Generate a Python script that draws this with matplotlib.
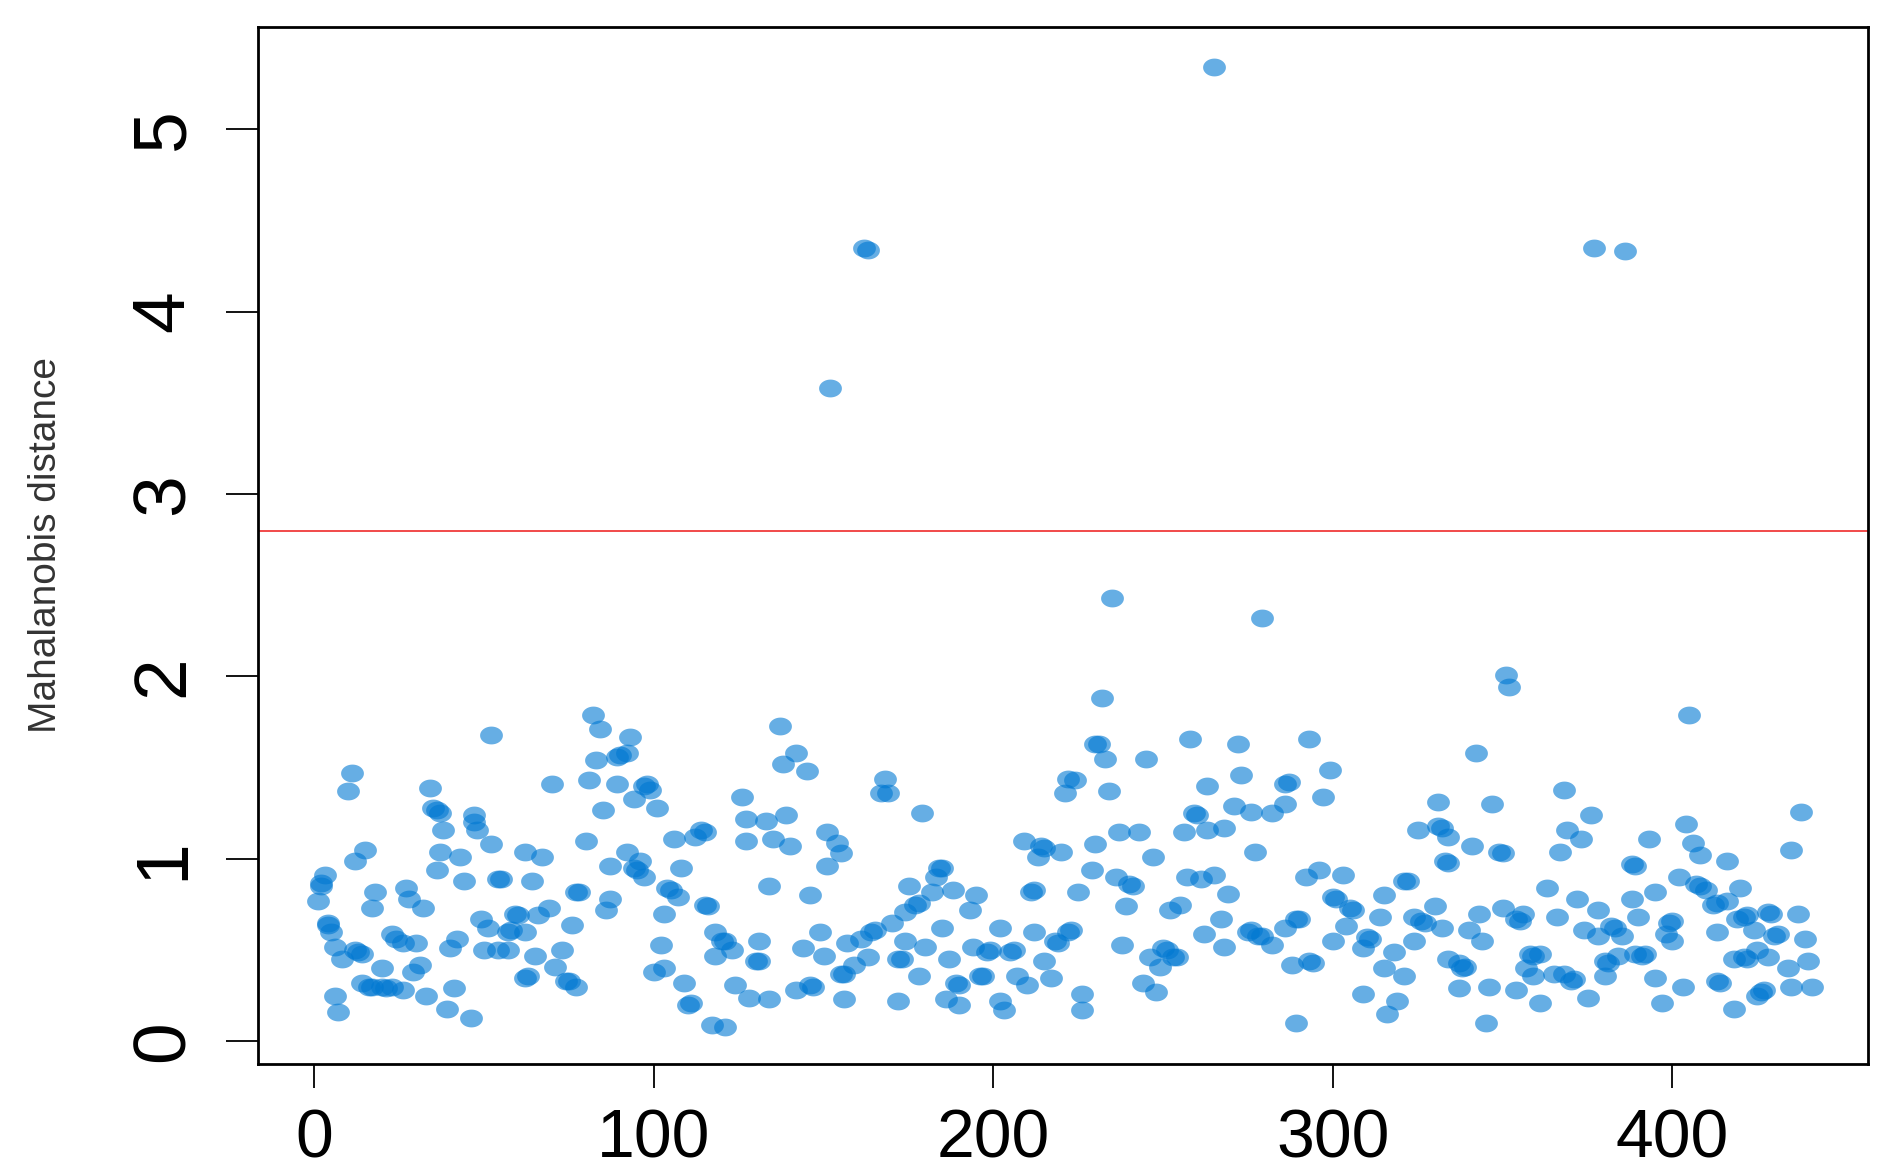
import numpy as np
import matplotlib.pyplot as plt
from matplotlib.path import Path

# observation index (x) and Mahalanobis distance (y), read left to right
obs_index = [
    52, 11, 10, 34, 35, 36, 37, 47, 47, 48, 38, 52, 15, 12, 37, 43, 36, 44, 3, 2,
    2, 1, 54, 55, 18, 27, 28, 32, 17, 4, 4, 5, 49, 51, 23, 24, 26, 30, 42, 40,
    50, 54, 6, 12, 13, 14, 8, 20, 31, 29, 14, 16, 17, 20, 21, 23, 26, 33, 41, 6,
    7, 39, 46,
    82, 84, 93, 89, 90, 92, 83, 70, 81, 89, 97, 98, 99, 94, 101, 85, 80, 62, 67, 106,
    92, 96, 87, 94, 95, 97, 108, 64, 77, 78, 104, 105, 107, 87, 86, 69, 66, 59, 60, 57,
    58, 62, 76, 103, 102, 57, 65, 73, 71, 100, 103, 62, 63, 74, 75, 77, 109, 110, 111,
    137, 142, 138, 145, 126, 127, 133, 139, 127, 135, 140, 114, 115, 112, 151, 154, 155, 151, 134, 146,
    115, 116, 118, 120, 121, 123, 118, 131, 130, 131, 149, 144, 150, 157, 164, 165, 161, 163, 155, 156,
    159, 124, 128, 134, 142, 146, 147, 156, 117, 121, 152, 162, 163,
    168, 167, 169, 179, 222, 221, 209, 214, 215, 220, 213, 184, 185, 183, 175, 188, 182, 195, 177, 178,
    193, 211, 212, 174, 170, 174, 185, 180, 194, 202, 198, 199, 205, 206, 212, 218, 219, 222, 172, 173,
    187, 215, 178, 189, 190, 196, 197, 207, 210, 217, 172, 186, 190, 202, 203,
    235, 279, 232, 230, 231, 233, 245, 258, 272, 273, 263, 224, 234, 259, 260, 271, 276, 263, 268, 256,
    237, 243, 230, 247, 277, 229, 236, 240, 241, 239, 225, 257, 261, 265, 269, 252, 255, 267, 275, 276,
    262, 268, 223, 238, 246, 250, 251, 253, 254, 249, 244, 248, 226, 226, 265,
    293, 299, 286, 287, 297, 286, 282, 331, 325, 331, 332, 333, 334, 292, 296, 303, 321, 322, 300, 301,
    305, 306, 315, 289, 290, 286, 278, 279, 282, 304, 300, 314, 310, 311, 309, 318, 324, 326, 327, 330,
    324, 334, 288, 293, 294, 315, 321, 309, 319, 316, 289,
    351, 352, 342, 368, 376, 369, 373, 367, 347, 334, 341, 349, 350, 388, 389, 363, 372, 378, 388, 390,
    350, 343, 354, 355, 356, 366, 332, 340, 344, 374, 378, 382, 383, 385, 358, 359, 361, 357, 359, 337,
    338, 339, 365, 370, 371, 368, 380, 381, 384, 380, 389, 337, 346, 354, 361, 375, 345, 377, 386,
    405, 438, 435, 404, 393, 406, 408, 416, 402, 407, 408, 410, 420, 395, 412, 413, 416, 399, 400, 398,
    400, 413, 419, 421, 422, 428, 429, 437, 424, 430, 431, 439, 391, 392, 418, 421, 422, 425, 428, 434,
    440, 395, 403, 413, 414, 426, 427, 425, 435, 441, 397, 418,
]
mahal_dist = [
    1.68, 1.47, 1.37, 1.39, 1.28, 1.27, 1.25, 1.24, 1.20, 1.16, 1.16, 1.08, 1.05, 0.99, 1.04, 1.01, 0.94, 0.88, 0.91, 0.85,
    0.87, 0.77, 0.89, 0.89, 0.82, 0.84, 0.78, 0.73, 0.73, 0.65, 0.64, 0.60, 0.67, 0.62, 0.59, 0.56, 0.54, 0.54, 0.56, 0.51,
    0.50, 0.50, 0.52, 0.50, 0.49, 0.48, 0.45, 0.40, 0.42, 0.38, 0.32, 0.30, 0.30, 0.30, 0.29, 0.30, 0.28, 0.25, 0.29, 0.25,
    0.16, 0.18, 0.13,
    1.79, 1.71, 1.67, 1.56, 1.57, 1.58, 1.54, 1.41, 1.43, 1.41, 1.40, 1.41, 1.38, 1.33, 1.28, 1.27, 1.10, 1.04, 1.01, 1.11,
    1.04, 0.99, 0.96, 0.95, 0.94, 0.90, 0.95, 0.88, 0.82, 0.82, 0.84, 0.83, 0.79, 0.78, 0.72, 0.73, 0.69, 0.70, 0.69, 0.60,
    0.61, 0.60, 0.64, 0.70, 0.53, 0.50, 0.47, 0.50, 0.41, 0.38, 0.40, 0.35, 0.36, 0.33, 0.33, 0.30, 0.32, 0.20, 0.21,
    1.73, 1.58, 1.52, 1.48, 1.34, 1.22, 1.21, 1.24, 1.10, 1.11, 1.07, 1.16, 1.15, 1.12, 1.15, 1.09, 1.03, 0.96, 0.85, 0.80,
    0.75, 0.74, 0.60, 0.55, 0.55, 0.50, 0.47, 0.55, 0.44, 0.44, 0.60, 0.51, 0.47, 0.54, 0.60, 0.61, 0.56, 0.46, 0.37, 0.37,
    0.42, 0.31, 0.24, 0.23, 0.28, 0.31, 0.30, 0.23, 0.09, 0.08, 3.58, 4.35, 4.34,
    1.44, 1.36, 1.36, 1.25, 1.44, 1.36, 1.10, 1.07, 1.06, 1.04, 1.01, 0.95, 0.95, 0.90, 0.85, 0.83, 0.82, 0.80, 0.75, 0.76,
    0.72, 0.82, 0.83, 0.71, 0.65, 0.55, 0.62, 0.52, 0.52, 0.62, 0.49, 0.50, 0.49, 0.50, 0.60, 0.55, 0.54, 0.60, 0.45, 0.45,
    0.45, 0.44, 0.36, 0.32, 0.31, 0.36, 0.36, 0.36, 0.31, 0.35, 0.22, 0.23, 0.20, 0.22, 0.17,
    2.43, 2.32, 1.88, 1.63, 1.63, 1.55, 1.55, 1.66, 1.63, 1.46, 1.40, 1.43, 1.37, 1.25, 1.24, 1.29, 1.26, 1.16, 1.17, 1.15,
    1.15, 1.15, 1.08, 1.01, 1.04, 0.94, 0.90, 0.86, 0.85, 0.74, 0.82, 0.90, 0.89, 0.91, 0.81, 0.72, 0.75, 0.67, 0.60, 0.61,
    0.59, 0.52, 0.61, 0.53, 0.46, 0.51, 0.50, 0.46, 0.46, 0.41, 0.32, 0.27, 0.26, 0.17, 5.34,
    1.66, 1.49, 1.41, 1.42, 1.34, 1.30, 1.25, 1.31, 1.16, 1.18, 1.17, 0.99, 0.98, 0.90, 0.94, 0.91, 0.88, 0.88, 0.79, 0.78,
    0.73, 0.72, 0.80, 0.67, 0.67, 0.62, 0.58, 0.58, 0.53, 0.63, 0.55, 0.68, 0.57, 0.56, 0.51, 0.49, 0.68, 0.66, 0.65, 0.74,
    0.55, 0.45, 0.42, 0.44, 0.43, 0.40, 0.36, 0.26, 0.22, 0.15, 0.10,
    2.01, 1.94, 1.58, 1.38, 1.24, 1.16, 1.11, 1.04, 1.30, 1.12, 1.07, 1.04, 1.03, 0.97, 0.96, 0.84, 0.78, 0.72, 0.78, 0.68,
    0.73, 0.70, 0.67, 0.66, 0.70, 0.68, 0.62, 0.61, 0.55, 0.61, 0.58, 0.63, 0.62, 0.58, 0.48, 0.47, 0.48, 0.40, 0.36, 0.43,
    0.40, 0.41, 0.37, 0.33, 0.34, 0.37, 0.44, 0.43, 0.47, 0.36, 0.48, 0.29, 0.30, 0.28, 0.21, 0.24, 0.10, 4.35, 4.33,
    1.79, 1.26, 1.05, 1.19, 1.11, 1.09, 1.02, 0.99, 0.90, 0.86, 0.85, 0.83, 0.84, 0.82, 0.75, 0.76, 0.77, 0.65, 0.66, 0.59,
    0.55, 0.60, 0.67, 0.68, 0.69, 0.71, 0.70, 0.70, 0.61, 0.58, 0.59, 0.56, 0.47, 0.48, 0.45, 0.46, 0.45, 0.50, 0.46, 0.40,
    0.44, 0.35, 0.30, 0.33, 0.32, 0.27, 0.28, 0.25, 0.30, 0.30, 0.21, 0.18,
]
cutoff = 2.8
x_ticks = [0, 100, 200, 300, 400]
y_ticks = [0, 1, 2, 3, 4, 5]


def oval_marker(aspect=1.28):
    # the points in the source image are a bit wider than tall
    t = np.linspace(0, 2 * np.pi, 48)
    return Path(np.column_stack([aspect * np.cos(t), np.sin(t)]))


def main():
    plt.rcParams['font.family'] = ['Liberation Sans', 'DejaVu Sans']

    fig = plt.figure(figsize=(18.88, 11.75), dpi=100)
    ax = fig.add_axes([258 / 1888, 1 - 1064 / 1175, 1610 / 1888, 1037 / 1175])

    ax.scatter(obs_index, mahal_dist, s=270, marker=oval_marker(),
               color='#0078D2', alpha=0.6, linewidths=0, zorder=2)
    ax.axhline(cutoff, color='#F03C3C', linewidth=1.3, zorder=1)

    ax.set_xlim(-16.6, 457.6)
    ax.set_ylim(-0.124, 5.56)
    ax.set_xticks(x_ticks)
    ax.set_yticks(y_ticks)
    ax.set_xticklabels([str(v) for v in x_ticks], fontsize=49)
    ax.set_yticklabels([str(v) for v in y_ticks], fontsize=54, rotation=90, va='center')
    ax.tick_params(axis='x', length=17, width=1.3, pad=14, direction='out')
    ax.tick_params(axis='y', length=23, width=1.3, pad=20, direction='out')
    for sp in ax.spines.values():
        sp.set_linewidth(2.0)
        sp.set_color('black')

    fig.text(46 / 1888, 1 - 545 / 1175, 'Mahalanobis distance', rotation=90,
             ha='center', va='center', fontsize=28, color='#333333')

    fig.savefig('out.png', dpi=100)


if __name__ == '__main__':
    main()
